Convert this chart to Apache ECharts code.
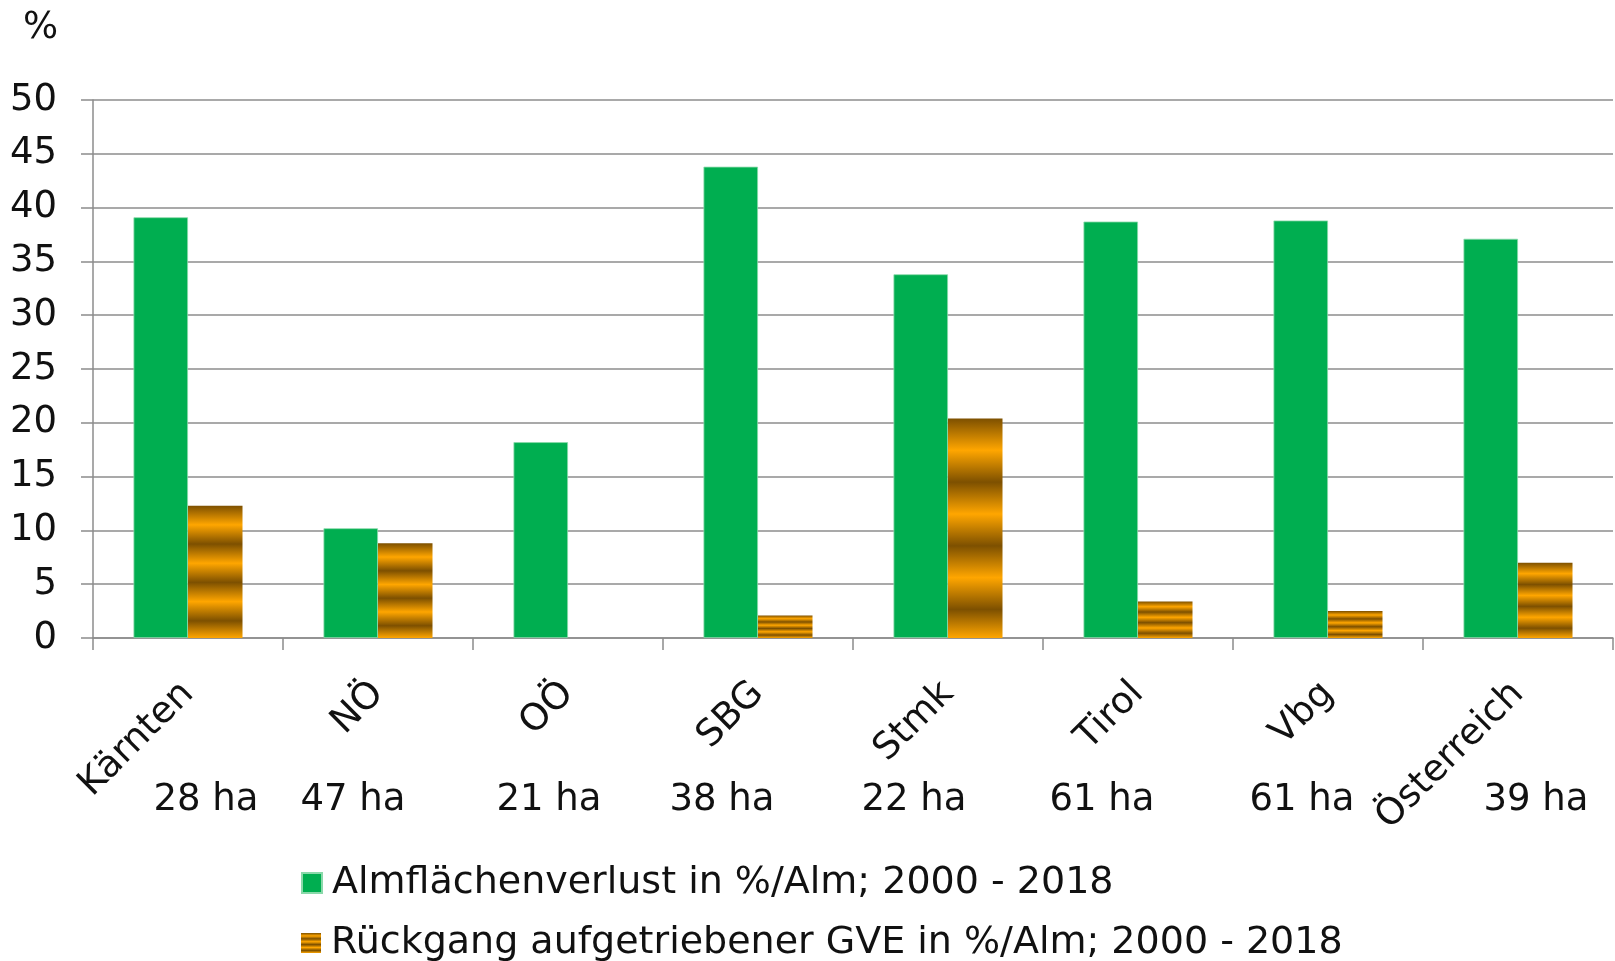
<!DOCTYPE html>
<html>
<head>
<meta charset="utf-8">
<script src="https://cdn.jsdelivr.net/npm/echarts@6/dist/echarts.min.js"></script>
<style>
html,body{margin:0;padding:0;background:#fff;}
#chart{width:1615px;height:961px;}
</style>
</head>
<body>
<div id="chart"></div>
<script>
// ---- data ----
const categories = ['Kärnten', 'NÖ', 'OÖ', 'SBG', 'Stmk', 'Tirol', 'Vbg', 'Österreich'];
const areaLoss = [39.1, 10.2, 18.2, 43.8, 33.8, 38.7, 38.8, 37.1];
const gveDecline = [12.3, 8.8, null, 2.1, 20.4, 3.4, 2.5, 7.0];
const avgArea = [28, 47, 21, 38, 22, 61, 61, 39];
const seriesNames = ['Almflächenverlust in %/Alm; 2000 - 2018', 'Rückgang aufgetriebener GVE in %/Alm; 2000 - 2018'];
const yUnit = '%';

// ---- layout / style ----
const FONT = 'DejaVu Sans';
const FS = 37;
const haShift = [18, -25, -19, -36, -34, -36, -26, 18]; // horizontal nudge of "ha" labels (px)

const dark = '#7d5000', orange = '#ffa600';
const stops = [];
const period = 0.29;
for (let k = 0; k < 4; k++) {
  stops.push({offset: Math.min(1, k * period), color: dark});
  stops.push({offset: Math.min(1, k * period + period / 2), color: orange});
}
const stripe = new echarts.graphic.LinearGradient(0, 0, 0, 1, stops);

const haData = avgArea.map((v, i) => {
  const s = haShift[i];
  return {
    value: v + ' ha',
    textStyle: {padding: s >= 0 ? [0, 0, 0, 2 * s] : [0, -2 * s, 0, 0]}
  };
});

const legendBase = {
  orient: 'vertical', left: 301, padding: 0,
  itemWidth: 20, itemHeight: 20,
  icon: 'rect',
  textStyle: {fontFamily: FONT, fontSize: 38, color: '#111', lineHeight: 38, padding: [0, 0, 0, 5]}
};

const chart = echarts.init(document.getElementById('chart'), null, {renderer: 'canvas'});
chart.setOption({
  animation: false,
  backgroundColor: '#ffffff',
  textStyle: {fontFamily: FONT},
  title: {
    text: yUnit, left: 18, top: 5,
    textStyle: {fontFamily: FONT, fontSize: FS, fontWeight: 'normal', color: '#111'}
  },
  grid: {left: 93, right: 2, top: 100, bottom: 323, containLabel: false},
  legend: [
    Object.assign({}, legendBase, {top: 864, data: [seriesNames[0]]}),
    Object.assign({}, legendBase, {top: 924, data: [seriesNames[1]]})
  ],
  xAxis: [{
    type: 'category', data: categories, position: 'bottom',
    axisLine: {lineStyle: {color: '#8c8c8c', width: 1.5}},
    axisTick: {show: true, length: 12, lineStyle: {color: '#8c8c8c', width: 1.5}},
    axisLabel: {
      rotate: 45, margin: 50, fontSize: FS, fontFamily: FONT, color: '#111',
      padding: [28, 0, 0, 0], interval: 0
    }
  }, {
    type: 'category', data: haData, position: 'bottom', gridIndex: 0,
    axisLine: {show: false}, axisTick: {show: false},
    axisLabel: {margin: 144, fontSize: FS, fontFamily: FONT, color: '#111', interval: 0}
  }],
  yAxis: {
    type: 'value', min: 0, max: 50, interval: 5,
    axisLine: {show: true, lineStyle: {color: '#8c8c8c', width: 1.5}},
    axisTick: {show: true, length: 12, lineStyle: {color: '#8c8c8c', width: 1.5}},
    axisLabel: {margin: 36, fontSize: FS, fontFamily: FONT, color: '#111'},
    splitLine: {show: true, lineStyle: {color: '#8c8c8c', width: 1.5}}
  },
  series: [{
    name: seriesNames[0], type: 'bar', data: areaLoss,
    barWidth: 54.5, barGap: '0%',
    itemStyle: {color: '#00ae50', borderColor: '#8ad9aa', borderWidth: 0.8}
  }, {
    name: seriesNames[1], type: 'bar', data: gveDecline,
    barWidth: 54.5, barGap: '0%',
    itemStyle: {color: stripe}
  }]
});
</script>
</body>
</html>
